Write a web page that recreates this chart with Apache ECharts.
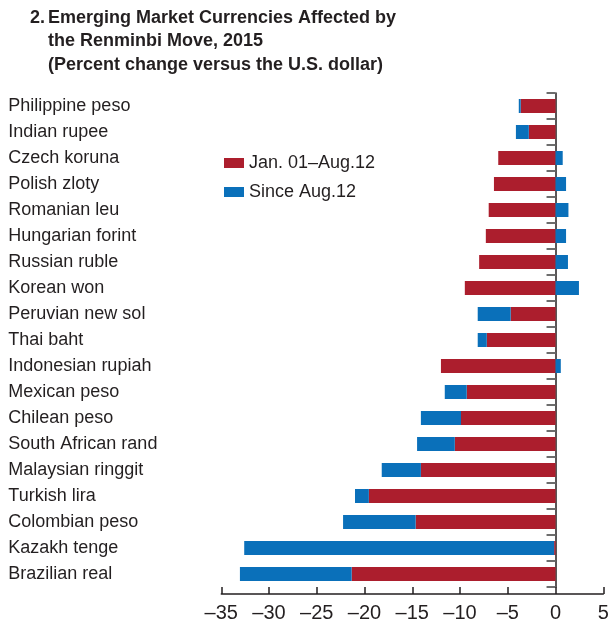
<!DOCTYPE html>
<html>
<head>
<meta charset="utf-8">
<script src="https://cdn.jsdelivr.net/npm/echarts@6/dist/echarts.min.js"></script>
<style>
  html, body { margin: 0; padding: 0; background: #fff; }
  #chart { width: 615px; height: 632px; }
</style>
</head>
<body>
<div id="chart"></div>
<script>
const currencies = [
  'Philippine peso', 'Indian rupee', 'Czech koruna', 'Polish zloty', 'Romanian leu',
  'Hungarian forint', 'Russian ruble', 'Korean won', 'Peruvian new sol', 'Thai baht',
  'Indonesian rupiah', 'Mexican peso', 'Chilean peso', 'South African rand',
  'Malaysian ringgit', 'Turkish lira', 'Colombian peso', 'Kazakh tenge', 'Brazilian real'
];
// Jan. 01 - Aug. 12
const beforeMove = [
  -3.65, -2.8, -6.0, -6.45, -7.0, -7.3, -8.0, -9.5, -4.7, -7.2,
  -12.0, -9.3, -9.9, -10.55, -14.1, -19.55, -14.65, -0.15, -21.35
];
// since Aug. 12
const afterMove = [
  -0.2, -1.35, 0.75, 1.1, 1.35, 1.1, 1.3, 2.45, -3.45, -0.95,
  0.55, -2.3, -4.2, -3.95, -4.1, -1.45, -7.6, -32.45, -11.7
];
const xTicks = { min: -35, max: 5, step: 5 };

const font = '"Liberation Sans Narrow", "Arial Narrow", "Liberation Sans", sans-serif';
const red = '#ac1e2d';
const blue = '#0a70ba';
const ink = '#231f20';

const chart = echarts.init(document.getElementById('chart'));

const titleStyle = { fontFamily: font, fontWeight: 'bold', fontSize: 18, color: ink, lineHeight: 23.5 };

chart.setOption({
  animation: false,
  title: [
    { text: '2.', left: 30, top: 6, padding: 0, textStyle: titleStyle },
    {
      text: 'Emerging Market Currencies Affected by\nthe Renminbi Move, 2015\n(Percent change versus the U.S. dollar)',
      left: 48, top: 6, padding: 0,
      textStyle: titleStyle
    }
  ],
  legend: {
    orient: 'vertical',
    left: 224, top: 154, padding: 0,
    itemWidth: 20, itemHeight: 10, itemGap: 11,
    icon: 'rect',
    textStyle: { fontFamily: font, fontSize: 18, color: ink },
    data: ['Jan. 01–Aug.12', 'Since Aug.12']
  },
  grid: { left: 221.3, right: 11.7, top: 93, bottom: 45 },
  xAxis: {
    type: 'value',
    min: xTicks.min, max: xTicks.max, interval: xTicks.step,
    offset: 7,
    splitLine: { show: false },
    axisLine: { show: true, lineStyle: { color: ink, width: 1.5 } },
    axisTick: { show: true, inside: true, length: 7, lineStyle: { color: ink, width: 1.5 } },
    axisLabel: {
      fontFamily: font, fontSize: 20, color: ink, margin: 9,
      formatter: v => String(v).replace('-', '–')
    }
  },
  yAxis: [
    {
      type: 'category',
      data: currencies,
      inverse: true,
      position: 'left',
      axisLine: { show: false, onZero: false },
      axisTick: { show: false },
      axisLabel: { fontFamily: font, fontSize: 18, color: ink, align: 'left', margin: 213 }
    },
    {
      type: 'category',
      data: currencies,
      inverse: true,
      position: 'left',
      axisLine: { show: true, onZero: true, lineStyle: { color: ink, width: 1.5 } },
      axisTick: { show: true, length: 9, lineStyle: { color: '#6d6d6d', width: 2 } },
      axisLabel: { show: false }
    }
  ],
  series: [
    {
      name: 'Jan. 01–Aug.12',
      type: 'bar',
      stack: 'total',
      yAxisIndex: 0,
      barWidth: 14,
      itemStyle: { color: red },
      data: beforeMove
    },
    {
      name: 'Since Aug.12',
      type: 'bar',
      stack: 'total',
      yAxisIndex: 0,
      barWidth: 14,
      itemStyle: { color: blue },
      data: afterMove
    }
  ]
});
</script>
</body>
</html>
